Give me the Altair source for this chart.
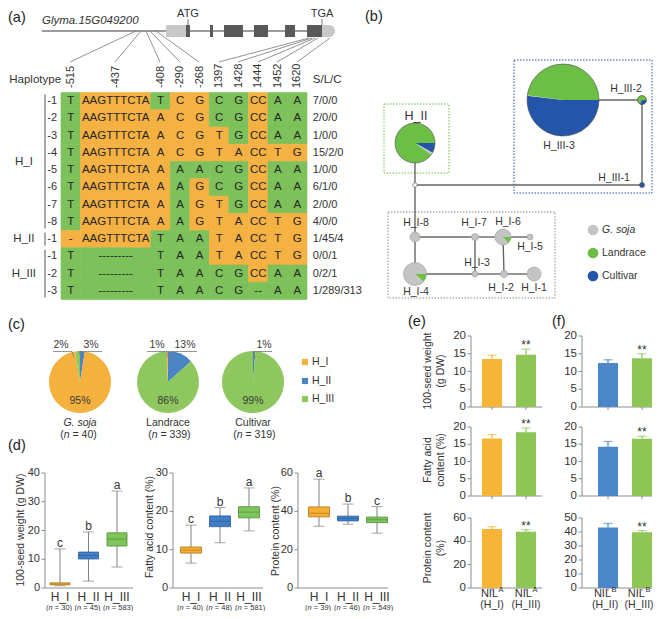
import altair as alt
import numpy as np
import pandas as pd

FONT = "Liberation Sans"
W, H = 645, 603
M = 8  # page margin (reference pixel -> chart pixel)

# ---------------- colours ----------------
ORANGE_T, GREEN_T = "#F5B142", "#7DC15B"
SOJA_C, LAND_C, CULT_C = "#C4C4C4", "#6CBE45", "#2355A8"
HI_C, HII_C, HIII_C = "#F5B13D", "#4A84C5", "#8DC75D"
BOX_FILL = ["#F6AD35", "#3F7FC8", "#80C55B"]
BOX_EDGE = ["#B27A1B", "#2B5B99", "#4E8C35"]
BAR_O, BAR_G, BAR_B = "#F7B537", "#8DC655", "#4C87CA"
AXC, TXT = "#8C8C8C", "#333333"

# ================= DATA =================
# (a) haplotype alignment
positions = ["-515", "-437", "-408", "-290", "-268", "1397", "1428", "1444", "1452", "1620"]
col_width = [1, 3.6, 1, 1, 1, 1, 1, 1, 1, 1]
hap_group = ["H_I"] * 8 + ["H_II"] + ["H_III"] * 3
hap_sub = ["-1", "-2", "-3", "-4", "-5", "-6", "-7", "-8", "-1", "-1", "-2", "-3"]
sequences = [
    ["T", "AAGTTTCTA", "T", "C", "G", "C", "G", "CC", "A", "A"],
    ["T", "AAGTTTCTA", "A", "C", "G", "C", "G", "CC", "A", "A"],
    ["T", "AAGTTTCTA", "A", "C", "G", "T", "G", "CC", "A", "A"],
    ["T", "AAGTTTCTA", "A", "C", "G", "T", "A", "CC", "T", "G"],
    ["T", "AAGTTTCTA", "A", "A", "A", "C", "G", "CC", "A", "A"],
    ["T", "AAGTTTCTA", "A", "A", "G", "C", "G", "CC", "A", "A"],
    ["T", "AAGTTTCTA", "A", "A", "G", "T", "G", "CC", "A", "A"],
    ["T", "AAGTTTCTA", "A", "A", "G", "T", "A", "CC", "T", "G"],
    ["-", "AAGTTTCTA", "T", "A", "A", "T", "A", "CC", "T", "G"],
    ["T", "---------", "T", "A", "A", "T", "A", "CC", "T", "G"],
    ["T", "---------", "T", "A", "A", "C", "G", "CC", "A", "A"],
    ["T", "---------", "T", "A", "A", "C", "G", "--", "A", "A"],
]
n_soja = [7, 2, 1, 15, 1, 6, 2, 4, 1, 0, 0, 1]
n_land = [0, 0, 0, 2, 0, 1, 0, 0, 45, 0, 2, 289]
n_cult = [0, 0, 0, 0, 0, 0, 0, 0, 4, 1, 1, 313]
hap_names = [g + s for g, s in zip(hap_group, hap_sub)]

# (a) gene model schematic
gene_x = [42, 335]
gene_y = 31
utr_x0, utr_x1 = [166], [186]
utr3_x0, utr3_x1 = [322], [335]
exon_x0 = [186, 210, 224, 254, 285, 307]
exon_x1 = [190, 213, 243, 268, 295, 322]
box_y0, box_y1 = 25, 37
link_x0 = [136, 141, 146, 150, 156, 309, 312, 315, 318, 330]
link_y0 = [31] * 5 + [38] * 5
link_x1 = [70, 115, 160, 180, 199, 219, 238, 258, 277, 297]
link_y1 = [62] * 10

# (b) haplotype network layout (same order as table rows)
node_x = [534, 504, 475, 415, 530, 503, 475, 415, 415, 642, 642, 563]
node_y = [274, 274, 274, 274, 237, 237, 237, 237, 143, 185, 100, 100]
node_r = [7, 3.5, 3, 11.5, 3, 8, 3.5, 5, 20, 2.5, 4.5, 36]
label_x = [534, 501, 477, 416, 530, 508, 474, 416, 416, 614, 626, 559]
label_y = [288, 288, 263, 292, 247, 222, 223, 223, 116, 178, 89, 146]
junction = (415, 185)
net_edges = [("H_II-1", "J"), ("J", "H_III-1"), ("H_III-1", "H_III-2"), ("H_III-2", "H_III-3"),
             ("J", "H_I-8"), ("H_I-8", "H_I-7"), ("H_I-7", "H_I-6"), ("H_I-6", "H_I-5"),
             ("H_I-8", "H_I-4"), ("H_I-4", "H_I-3"), ("H_I-3", "H_I-2"), ("H_I-2", "H_I-1"),
             ("H_I-7", "H_I-3"), ("H_I-6", "H_I-2")]

# (c) pies
pie_names = ["G. soja", "Landrace", "Cultivar"]
pie_n = [40, 339, 319]
pie_order = [["H_II", "H_I", "H_III"], ["H_II", "H_III", "H_I"], ["H_II", "H_III", "H_I"]]
pie_cx = [80, 168, 253]
pie_cy, pie_r = 382, 31
pie_main_pct = ["95%", "86%", "99%"]

# (d) box plots
haps = ["H_I", "H_II", "H_III"]
weight_stats = dict(lo=[0.8, 2.4, 7.3], q1=[1.1, 10.1, 14.6], md=[1.4, 11.3, 17.0], q3=[1.8, 12.5, 19.2], hi=[13.6, 19.5, 33.7])
fatty_stats = dict(lo=[6.5, 11.8, 14.9], q1=[9.1, 16.0, 18.3], md=[9.9, 17.4, 19.8], q3=[10.7, 18.8, 21.2], hi=[16.4, 21.0, 26.1])
protein_stats = dict(lo=[32.2, 33.3, 28.6], q1=[37.1, 35.0, 34.1], md=[39.0, 36.3, 35.6], q3=[42.3, 37.5, 37.0], hi=[56.8, 43.8, 42.5])
weight_letters, fatty_letters, protein_letters = ["c", "b", "a"], ["c", "b", "a"], ["a", "b", "c"]
weight_n, fatty_n, protein_n = [30, 45, 583], [40, 48, 581], [39, 46, 549]

# (e)/(f) NIL bar charts
e_vals = [[13.5, 14.7], [16.7, 18.5], [50.5, 48.3]]
e_errs = [[1.1, 1.6], [1.1, 1.2], [2.0, 1.6]]
f_vals = [[12.4, 13.7], [14.3, 16.6], [43.3, 39.8]]
f_errs = [[0.9, 1.3], [1.5, 0.7], [2.8, 1.2]]
e_subs, f_subs = ["(H_I)", "(H_III)"], ["(H_II)", "(H_III)"]

# ================= HELPERS =================
CX = alt.Scale(domain=[M, W + M], range=[0, W], nice=False, zero=False)
CY = alt.Scale(domain=[M, H + M], range=[0, H], nice=False, zero=False)


def cx(f):
    return alt.X(f"{f}:Q", scale=CX, axis=None)


def cy(f):
    return alt.Y(f"{f}:Q", scale=CY, axis=None)


def ctext(rows, **kw):
    props = dict(font=FONT, baseline="middle", color=TXT, fontSize=11)
    props.update(kw)
    df = pd.DataFrame(rows, columns=["t", "x", "y"])
    return alt.Chart(df).mark_text(**props).encode(x=cx("x"), y=cy("y"), text="t:N")


def csegs(x0, y0, x1, y1, **kw):
    df = pd.DataFrame(dict(x0=x0, y0=y0, x1=x1, y1=y1))
    return alt.Chart(df).mark_rule(**kw).encode(x=cx("x0"), y=cy("y0"), x2="x1", y2="y1")


def crects(x0, x1, y0, y1, **kw):
    df = pd.DataFrame(dict(x0=x0, x1=x1, y0=y0, y1=y1))
    return alt.Chart(df).mark_rect(**kw).encode(x=cx("x0"), x2="x1", y=cy("y0"), y2="y1")


def slices(x, y, r, parts, start):
    tot = sum(p[0] for p in parts)
    out, a = [], start
    for cnt, col in parts:
        if cnt <= 0:
            continue
        b = a + 2 * np.pi * cnt / tot
        out.append(dict(x=x, y=y, r=r, t0=a, t1=b, c=col))
        a = b
    return out


def carcs(rows, **kw):
    df = pd.DataFrame(rows)
    return alt.Chart(df).mark_arc(**kw).encode(
        x=cx("x"), y=cy("y"),
        radius=alt.Radius("r:Q", scale=None),
        theta=alt.Theta("t0:Q", scale=None, stack=False), theta2="t1",
        fill=alt.Fill("c:N", scale=None))


# ================= CANVAS (diagram parts) =================
L = []
L.append(ctext([("(a)", 8, 18), ("(b)", 365, 17), ("(c)", 8, 325), ("(d)", 8, 446), ("(e)", 408, 322), ("(f)", 552, 322)],
               align="left", fontSize=14.5, color="#222222"))
# gene model
L.append(csegs([gene_x[0]], [gene_y], [gene_x[1]], [gene_y], color="#7A7A7A", strokeWidth=1.5))
L.append(crects(utr_x0, utr_x1, [box_y0], [box_y1], color="#C8C8C8"))
L.append(crects(utr3_x0, utr3_x1, [box_y0], [box_y1], color="#C8C8C8", cornerRadiusTopRight=6, cornerRadiusBottomRight=6))
L.append(crects(exon_x0, exon_x1, [box_y0] * 6, [box_y1] * 6, color="#595959"))
L.append(csegs([188, 322], [19, 19], [188, 322], [25, 25], color="#777777", strokeWidth=1))
L.append(csegs(link_x0, link_y0, link_x1, link_y1, color="#777777", strokeWidth=0.8))
L.append(ctext([("Glyma.15G049200", 42, 21)], align="left", fontStyle="italic", fontSize=11.5))
L.append(ctext([("ATG", 188, 13.5), ("TGA", 322, 13.5)], align="center", fontSize=11))

# network
pos = {n: (x, y) for n, x, y in zip(hap_names, node_x, node_y)}
pos["J"] = junction
ex0 = [pos[a][0] for a, b in net_edges]
ey0 = [pos[a][1] for a, b in net_edges]
ex1 = [pos[b][0] for a, b in net_edges]
ey1 = [pos[b][1] for a, b in net_edges]
dash_boxes = pd.DataFrame(dict(x0=[384, 514, 388], x1=[449, 652, 555], y0=[104, 60, 212], y1=[173, 193, 298],
                               c=[LAND_C, CULT_C, "#8A8A8A"]))
L.append(alt.Chart(dash_boxes).mark_rect(fillOpacity=0, strokeDash=[1.5, 1.5], strokeWidth=1).encode(
    x=cx("x0"), x2="x1", y=cy("y0"), y2="y1", stroke=alt.Stroke("c:N", scale=None)))
L.append(csegs(ex0, ey0, ex1, ey1, color="#666666", strokeWidth=1.4))
node_rows, outline_rows = [], []
for i, name in enumerate(hap_names):
    if hap_group[i] == "H_I":
        parts = [(n_land[i], LAND_C), (n_soja[i], SOJA_C)]
        oc = "#9A9A9A"
    else:
        parts = [(n_cult[i], CULT_C), (n_soja[i], SOJA_C), (n_land[i], LAND_C)]
        oc = "#4A4A4A"
    node_rows += slices(node_x[i], node_y[i], node_r[i], parts, np.pi / 2)
    outline_rows.append(dict(x=node_x[i], y=node_y[i], r=node_r[i], t0=0.0, t1=2 * np.pi, c=oc))
L.append(carcs(node_rows))
L.append(alt.Chart(pd.DataFrame(outline_rows)).mark_arc(fillOpacity=0, strokeWidth=0.6).encode(
    x=cx("x"), y=cy("y"), radius=alt.Radius("r:Q", scale=None),
    theta=alt.Theta("t0:Q", scale=None, stack=False), theta2="t1",
    stroke=alt.Stroke("c:N", scale=None)))
L.append(carcs([dict(x=junction[0], y=junction[1], r=2.2, t0=0.0, t1=2 * np.pi, c="#FFFFFF")],
               stroke="#777777", strokeWidth=0.8))
L.append(ctext([(n, x, y) for n, x, y in zip(hap_names, label_x, label_y) if n != "H_II-1"], fontSize=10.5))
L.append(ctext([("H_II", label_x[8], label_y[8])], fontSize=12.5))
# (b) legend
leg_b = pd.DataFrame(dict(x=[593, 593, 593], y=[230, 253, 276], c=[SOJA_C, LAND_C, CULT_C]))
L.append(alt.Chart(leg_b).mark_circle(size=115, opacity=1).encode(x=cx("x"), y=cy("y"), color=alt.Color("c:N", scale=None)))
L.append(ctext([("G. soja", 602, 230)], align="left", fontStyle="italic", fontSize=10.5))
L.append(ctext([("Landrace", 602, 253), ("Cultivar", 602, 276)], align="left", fontSize=10.5))

# (c) pies
grp_cnt = []
for counts in (n_soja, n_land, n_cult):
    d = {}
    for g, v in zip(hap_group, counts):
        d[g] = d.get(g, 0) + v
    grp_cnt.append(d)
hcol = {"H_I": HI_C, "H_II": HII_C, "H_III": HIII_C}
pie_rows = []
for k in range(3):
    parts = [(grp_cnt[k][h], hcol[h]) for h in pie_order[k]]
    pie_rows += slices(pie_cx[k], pie_cy, pie_r, parts, 0.0)
L.append(carcs(pie_rows))
L.append(ctext([(p, x, 401) for p, x in zip(pie_main_pct, pie_cx)], fontSize=10.5, color="#3A3A3A"))
L.append(ctext([("2%", 61, 345), ("3%", 91, 345), ("1%", 157, 345), ("13%", 185, 345), ("1%", 264, 345)],
               fontSize=10.5, color="#3A3A3A"))
L.append(csegs([53, 72, 79, 79, 147, 167, 171, 171, 254, 254],
               [351.5] * 10,
               [72, 74, 102, 81, 167, 167, 197, 174, 272, 255],
               [351.5, 357, 351.5, 357, 351.5, 357, 351.5, 362, 351.5, 358], color="#7A7A7A", strokeWidth=0.8))
L.append(ctext([(pie_names[0], pie_cx[0], 423)], fontStyle="italic", fontSize=10.5))
L.append(ctext([(pie_names[1], pie_cx[1], 423), (pie_names[2], pie_cx[2], 423)], fontSize=10.5))
nlab = pd.DataFrame(dict(x=pie_cx, y=[435] * 3, t=[f"= {n})" for n in pie_n]))
for txt, al, dxv, sty in [("(", "right", -16.2, "normal"), ("n", "left", -16.2, "italic")]:
    L.append(alt.Chart(nlab).mark_text(font=FONT, fontSize=10.5, color=TXT, baseline="middle", align=al, dx=dxv,
                                       fontStyle=sty, text=txt).encode(x=cx("x"), y=cy("y")))
L.append(alt.Chart(nlab).mark_text(font=FONT, fontSize=10.5, color=TXT, baseline="middle", align="left", dx=-7.5)
         .encode(x=cx("x"), y=cy("y"), text="t:N"))
leg_c = pd.DataFrame(dict(x=[305, 305, 305], y=[362, 381, 399], c=[HI_C, HII_C, HIII_C]))
L.append(alt.Chart(leg_c).mark_square(size=38, opacity=1).encode(x=cx("x"), y=cy("y"), color=alt.Color("c:N", scale=None)))
L.append(ctext([("H_I", 312, 362), ("H_II", 312, 381), ("H_III", 312, 399)], align="left", fontSize=10.5))

# axis titles of (d), (e)
L.append(ctext([("100-seed weight (g DW)", 21, 530), ("Fatty acid content (%)", 150, 527), ("Protein content (%)", 276, 531)],
               angle=270, fontSize=10.5))
L.append(ctext([("100-seed weight", 428, 371), ("(g DW)", 441, 371), ("Fatty acid", 428, 460), ("content (%)", 441, 460),
                ("Protein content", 428, 548), ("(%)", 441, 548)], angle=270, fontSize=10.5))

canvas = alt.layer(*L)

# ================= TABLE (a) =================
edges = np.concatenate([[0.0], np.cumsum(col_width)])
TX = alt.Scale(domain=[0, float(edges[-1])], range=[61 - M, 307 - M], nice=False, zero=False)
TY = alt.Scale(domain=[0, 12], range=[92.5 - M, 299.5 - M], nice=False, zero=False)
ref = sequences[-1]
cells = []
for i, row in enumerate(sequences):
    for j, base in enumerate(row):
        cells.append(dict(x0=edges[j], x1=edges[j + 1], xm=(edges[j] + edges[j + 1]) / 2, y0=i, y1=i + 1, ym=i + 0.5,
                          t=base, c=GREEN_T if base == ref[j] else ORANGE_T))
cells = pd.DataFrame(cells)


def tx(f):
    return alt.X(f"{f}:Q", scale=TX, axis=None)


def ty(f):
    return alt.Y(f"{f}:Q", scale=TY, axis=None)


tl = []
tl.append(alt.Chart(cells).mark_rect(strokeWidth=0.6).encode(x=tx("x0"), x2="x1", y=ty("y0"), y2="y1",
                                                              fill=alt.Fill("c:N", scale=None), stroke=alt.Stroke("c:N", scale=None)))
tl.append(alt.Chart(cells).mark_text(font=FONT, fontSize=11.5, color="#262626", baseline="middle")
          .encode(x=tx("xm"), y=ty("ym"), text="t:N"))
hdr = pd.DataFrame(dict(t=positions, xm=(edges[:-1] + edges[1:]) / 2))
tl.append(alt.Chart(hdr).mark_text(font=FONT, fontSize=11, color=TXT, angle=270, align="left", baseline="middle")
          .encode(x=tx("xm"), y=alt.value(88 - M), text="t:N"))
rowlab = pd.DataFrame(dict(t=hap_sub, x=[-0.2] * 12, ym=np.arange(12) + 0.5,
                           slc=[f"{a}/{b}/{c}" for a, b, c in zip(n_soja, n_land, n_cult)], xs=[12.9] * 12))
tl.append(alt.Chart(rowlab).mark_text(font=FONT, fontSize=11, color=TXT, align="right", baseline="middle")
          .encode(x=tx("x"), y=ty("ym"), text="t:N"))
tl.append(alt.Chart(rowlab).mark_text(font=FONT, fontSize=11, color=TXT, align="left", baseline="middle")
          .encode(x=tx("xs"), y=ty("ym"), text="slc:N"))
grp_rows = []
for g in ["H_I", "H_II", "H_III"]:
    idx = [i for i, gg in enumerate(hap_group) if gg == g]
    grp_rows.append(dict(t=g, x=-1.9, ym=(min(idx) + max(idx) + 1) / 2, b=-0.82, y0=min(idx) + 0.12, y1=max(idx) + 0.88))
grp_rows = pd.DataFrame(grp_rows)
tl.append(alt.Chart(grp_rows).mark_text(font=FONT, fontSize=11.5, color=TXT, baseline="middle")
          .encode(x=tx("x"), y=ty("ym"), text="t:N"))
tl.append(alt.Chart(grp_rows).mark_rule(color="#555555", strokeWidth=1).encode(x=tx("b"), y=ty("y0"), y2="y1"))
heads = pd.DataFrame(dict(t=["Haplotype", "S/L/C"], x=[-2.65, 12.9]))
tl.append(alt.Chart(heads).mark_text(font=FONT, fontSize=11.5, color=TXT, align="left", baseline="middle")
          .encode(x=tx("x"), y=alt.value(80 - M), text="t:N"))
table = alt.layer(*tl)


# ================= manual axes drawn through each panel's scales =================
def axis_layers(ys, yaxis_x, xline, ytop, yvals, fs=11):
    xc = yaxis_x - M
    dom = pd.DataFrame(dict(a=[0], b=[ytop]))
    ticks = pd.DataFrame(dict(v=yvals))

    def Y(f):
        return alt.Y(f"{f}:Q", scale=ys, axis=None)

    return [
        alt.Chart(dom).mark_rule(color=AXC, strokeWidth=1).encode(x=alt.value(xc), y=Y("a"), y2="b"),
        alt.Chart(dom).mark_rule(color=AXC, strokeWidth=1).encode(x=alt.value(xline[0] - M), x2=alt.value(xline[1] - M), y=Y("a")),
        alt.Chart(ticks).mark_rule(color=AXC, strokeWidth=1).encode(x=alt.value(xc - 3.5), x2=alt.value(xc), y=Y("v")),
        alt.Chart(ticks).mark_text(font=FONT, fontSize=fs, color=TXT, align="right", baseline="middle").encode(
            x=alt.value(xc - 5), y=Y("v"), text=alt.Text("v:Q", format="d")),
    ]


# ================= BOX PANELS (d) =================
def box_panel(stats, letters, ns, band_rng, pin, pout, xline, ytop_val, yvals):
    df = pd.DataFrame(dict(g=haps, f=BOX_FILL, e=BOX_EDGE, L=letters, n=[f"= {v})" for v in ns], **stats))
    xs = alt.Scale(domain=haps, range=[band_rng[0] - M, band_rng[1] - M], paddingInner=pin, paddingOuter=pout)
    ys = alt.Scale(domain=[0, ytop_val], range=[588 - M, 473 - M], nice=False, zero=False)
    X = alt.X("g:N", scale=xs, axis=None)

    def Y(f):
        return alt.Y(f"{f}:Q", scale=ys, axis=None)

    b = alt.Chart(df)
    layers = axis_layers(ys, xline[0], xline, ytop_val, yvals, fs=11) + [
        b.mark_rule(color="#808080", strokeWidth=1).encode(x=X, y=Y("lo"), y2="q1"),
        b.mark_rule(color="#808080", strokeWidth=1).encode(x=X, y=Y("q3"), y2="hi"),
        b.mark_tick(color="#808080", size=11, thickness=1).encode(x=X, y=Y("lo")),
        b.mark_tick(color="#808080", size=11, thickness=1).encode(x=X, y=Y("hi")),
        b.mark_bar(strokeWidth=0.8).encode(x=X, y=Y("q1"), y2="q3", fill=alt.Fill("f:N", scale=None),
                                           stroke=alt.Stroke("e:N", scale=None)),
        b.mark_tick(size=20, thickness=1).encode(x=X, y=Y("md"), color=alt.Color("e:N", scale=None)),
        b.mark_text(font=FONT, fontSize=12, color=TXT, baseline="alphabetic", dy=-2).encode(x=X, y=Y("hi"), text="L:N"),
        b.mark_text(font=FONT, fontSize=12, color=TXT, baseline="middle").encode(x=X, y=alt.value(597 - M), text="g:N"),
        b.mark_text(font=FONT, fontSize=7.5, color=TXT, baseline="middle", align="right", dx=-11.5, text="(").encode(
            x=X, y=alt.value(608 - M)),
        b.mark_text(font=FONT, fontSize=7.5, color=TXT, baseline="middle", align="left", dx=-11.5, fontStyle="italic",
                    text="n").encode(x=X, y=alt.value(608 - M)),
        b.mark_text(font=FONT, fontSize=7.5, color=TXT, baseline="middle", align="left", dx=-5.2).encode(
            x=X, y=alt.value(608 - M), text="n:N"),
    ]
    return alt.layer(*layers)


box1 = box_panel(weight_stats, weight_letters, weight_n, [45, 132], 0.298, 0.175, [45, 133], 40, [0, 10, 20, 30, 40])
box2 = box_panel(fatty_stats, fatty_letters, fatty_n, [173, 267], 0.276, 0.259, [173, 263], 30, [0, 10, 20, 30])
box3 = box_panel(protein_stats, protein_letters, protein_n, [298, 398], 0.276, 0.362, [298, 388], 60, [0, 20, 40, 60])


# ================= BAR PANELS (e), (f) =================
def bar_panel(vals, errs, cols, sup, subs, band_rng, pout, xline, y0, ytop, vtop, yvals, bottom, ldx):
    cats = ["k1", "k2"]
    df = pd.DataFrame(dict(k=cats, v=vals, hi=[v + e for v, e in zip(vals, errs)], c=cols, s=["", "**"], sub=subs))
    xs = alt.Scale(domain=cats, range=[band_rng[0] - M, band_rng[1] - M], paddingInner=0.41, paddingOuter=pout)
    ys = alt.Scale(domain=[0, vtop], range=[y0 - M, ytop - M], nice=False, zero=False)
    X = alt.X("k:N", scale=xs, axis=None)

    def Y(f):
        return alt.Y(f"{f}:Q", scale=ys, axis=None)

    b = alt.Chart(df)
    layers = axis_layers(ys, xline[0], xline, vtop, yvals, fs=11.5) + [
        b.mark_bar().encode(x=X, y=Y("v"), fill=alt.Fill("c:N", scale=None)),
        b.mark_rule(color=AXC, strokeWidth=1).encode(x=X, y=alt.value(y0 - M), y2=alt.value(y0 - M + 3)),
        b.mark_rule(strokeWidth=1.2).encode(x=X, y=Y("v"), y2="hi", color=alt.Color("c:N", scale=None)),
        b.mark_tick(size=9, thickness=1.2).encode(x=X, y=Y("hi"), color=alt.Color("c:N", scale=None)),
        b.mark_text(font=FONT, fontSize=12, color=TXT, baseline="middle", dy=-4).encode(x=X, y=Y("hi"), text="s:N"),
    ]
    if bottom:
        layers += [
            b.mark_text(font=FONT, fontSize=11, color=TXT, baseline="middle", align="right", dx=6 + ldx, text="NIL").encode(
                x=X, y=alt.value(594 - M)),
            b.mark_text(font=FONT, fontSize=7.5, color=TXT, baseline="middle", align="left", dx=6.5 + ldx, dy=-4,
                        text=sup).encode(x=X, y=alt.value(594 - M)),
            b.mark_text(font=FONT, fontSize=10.5, color=TXT, baseline="middle", dx=ldx).encode(
                x=X, y=alt.value(605 - M), text="sub:N"),
        ]
    return alt.layer(*layers)


rows_geo_e = [(407, 336, 20, [0, 5, 10, 15, 20]), (496, 427, 20, [0, 5, 10, 15, 20]), (588, 518, 60, [0, 20, 40, 60])]
rows_geo_f = [(407, 336, 20, [0, 5, 10, 15, 20]), (496, 427, 20, [0, 5, 10, 15, 20]), (588, 518, 50, [0, 10, 20, 30, 40, 50])]
bars = []
for r in range(3):
    y0, yt, vt, yv = rows_geo_e[r]
    bars.append(bar_panel(e_vals[r], e_errs[r], [BAR_O, BAR_G], "A", e_subs, [471, 547], 0.323, [471, 542],
                          y0, yt, vt, yv, r == 2, 0))
    y0, yt, vt, yv = rows_geo_f[r]
    bars.append(bar_panel(f_vals[r], f_errs[r], [BAR_B, BAR_G], "B", f_subs, [582, 668], 0.47, [582, 652],
                          y0, yt, vt, yv, r == 2, -3))

chart = alt.layer(canvas, table, box1, box2, box3, *bars).resolve_scale(
    x="independent", y="independent").properties(
    width=W, height=H, autosize=alt.AutoSizeParams(type="none"), padding=0
).configure(font=FONT).configure_view(strokeOpacity=0)

chart.save("out.html", embed_options={"renderer": "svg", "actions": False})
